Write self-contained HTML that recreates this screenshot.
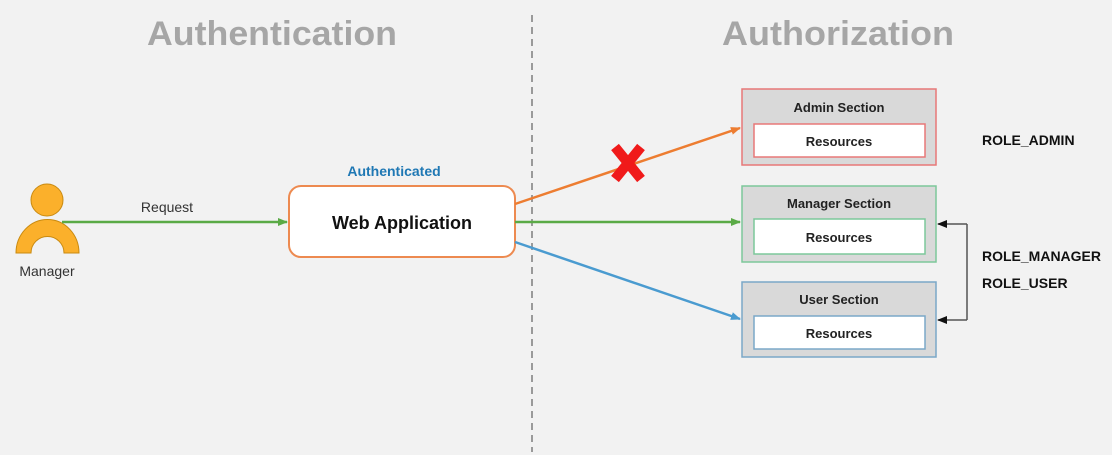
<!DOCTYPE html>
<html><head><meta charset="utf-8"><style>
html,body{margin:0;padding:0;background:#f2f2f2;}
svg{display:block;font-family:"Liberation Sans",sans-serif;}
</style></head><body>
<svg width="1112" height="455" viewBox="0 0 1112 455" xmlns="http://www.w3.org/2000/svg">
<defs>
<marker id="ag" markerWidth="10" markerHeight="10" refX="9" refY="5" orient="auto" markerUnits="userSpaceOnUse"><path d="M0,1 L10,5 L0,9 z" fill="#5aaa46"/></marker>
<marker id="ao" markerWidth="10" markerHeight="10" refX="9" refY="5" orient="auto" markerUnits="userSpaceOnUse"><path d="M0,1 L10,5 L0,9 z" fill="#ed7d31"/></marker>
<marker id="ab" markerWidth="10" markerHeight="10" refX="9" refY="5" orient="auto" markerUnits="userSpaceOnUse"><path d="M0,1 L10,5 L0,9 z" fill="#4a9bd0"/></marker>
<marker id="ak" markerWidth="10" markerHeight="10" refX="9" refY="5" orient="auto" markerUnits="userSpaceOnUse"><path d="M0,1 L10,5 L0,9 z" fill="#111"/></marker>
</defs>
<rect width="1112" height="455" fill="#f2f2f2"/>
<text x="147" y="45" font-size="34" font-weight="bold" fill="#a6a6a6" textLength="250" lengthAdjust="spacingAndGlyphs">Authentication</text>
<text x="722" y="45" font-size="34" font-weight="bold" fill="#a6a6a6" textLength="232" lengthAdjust="spacingAndGlyphs">Authorization</text>
<line x1="532" y1="15" x2="532" y2="452" stroke="#9a9a9a" stroke-width="2" stroke-dasharray="7,5"/>
<!-- person -->
<circle cx="47" cy="200" r="16" fill="#fbb02b" stroke="#c98a10" stroke-width="1"/>
<path d="M16,253 A31,33 0 0 1 79,253 L64,253 A16,16 0 0 0 31,253 Z" fill="#fbb02b" stroke="#c98a10" stroke-width="1"/>
<text x="47" y="276" font-size="14" fill="#333" text-anchor="middle">Manager</text>
<line x1="62" y1="222" x2="287" y2="222" stroke="#5aaa46" stroke-width="2.5" marker-end="url(#ag)"/>
<text x="167" y="212" font-size="14" fill="#333" text-anchor="middle">Request</text>
<text x="394" y="176" font-size="14" font-weight="bold" fill="#1f78b4" text-anchor="middle">Authenticated</text>
<rect x="289" y="186" width="226" height="71" rx="12" fill="#fff" stroke="#ed8a50" stroke-width="2"/>
<text x="402" y="229" font-size="18" font-weight="bold" fill="#111" text-anchor="middle">Web Application</text>
<line x1="515" y1="204" x2="740" y2="128" stroke="#ed7d31" stroke-width="2.5" marker-end="url(#ao)"/>
<line x1="515" y1="222" x2="740" y2="222" stroke="#5aaa46" stroke-width="2.5" marker-end="url(#ag)"/>
<line x1="515" y1="242" x2="740" y2="319" stroke="#4a9bd0" stroke-width="2.5" marker-end="url(#ab)"/>
<g stroke="#f01a1a" stroke-width="10" stroke-linecap="butt">
<line x1="615" y1="147" x2="641" y2="179"/><line x1="641" y1="147" x2="615" y2="179"/>
</g>
<!-- sections -->
<rect x="742" y="89" width="194" height="76" fill="#d9d9d9" stroke="#e87878" stroke-width="1.5"/>
<text x="839" y="112" font-size="13" font-weight="bold" fill="#222" text-anchor="middle">Admin Section</text>
<rect x="754" y="124" width="171" height="33" fill="#fff" stroke="#e87878" stroke-width="1.5"/>
<text x="839" y="146" font-size="13" font-weight="bold" fill="#222" text-anchor="middle">Resources</text>
<rect x="742" y="186" width="194" height="76" fill="#d9d9d9" stroke="#7cc89a" stroke-width="1.5"/>
<text x="839" y="208" font-size="13" font-weight="bold" fill="#222" text-anchor="middle">Manager Section</text>
<rect x="754" y="219" width="171" height="35" fill="#fff" stroke="#7cc89a" stroke-width="1.5"/>
<text x="839" y="242" font-size="13" font-weight="bold" fill="#222" text-anchor="middle">Resources</text>
<rect x="742" y="282" width="194" height="75" fill="#d9d9d9" stroke="#7aa8c8" stroke-width="1.5"/>
<text x="839" y="304" font-size="13" font-weight="bold" fill="#222" text-anchor="middle">User Section</text>
<rect x="754" y="316" width="171" height="33" fill="#fff" stroke="#7aa8c8" stroke-width="1.5"/>
<text x="839" y="338" font-size="13" font-weight="bold" fill="#222" text-anchor="middle">Resources</text>
<polyline points="967,224 967,320" fill="none" stroke="#555" stroke-width="1.5"/>
<line x1="967" y1="224" x2="938" y2="224" stroke="#555" stroke-width="1.5" marker-end="url(#ak)"/>
<line x1="967" y1="320" x2="938" y2="320" stroke="#555" stroke-width="1.5" marker-end="url(#ak)"/>
<text x="982" y="145" font-size="14" font-weight="bold" fill="#111">ROLE_ADMIN</text>
<text x="982" y="261" font-size="14" font-weight="bold" fill="#111">ROLE_MANAGER</text>
<text x="982" y="288" font-size="14" font-weight="bold" fill="#111">ROLE_USER</text>
</svg>
</body></html>
